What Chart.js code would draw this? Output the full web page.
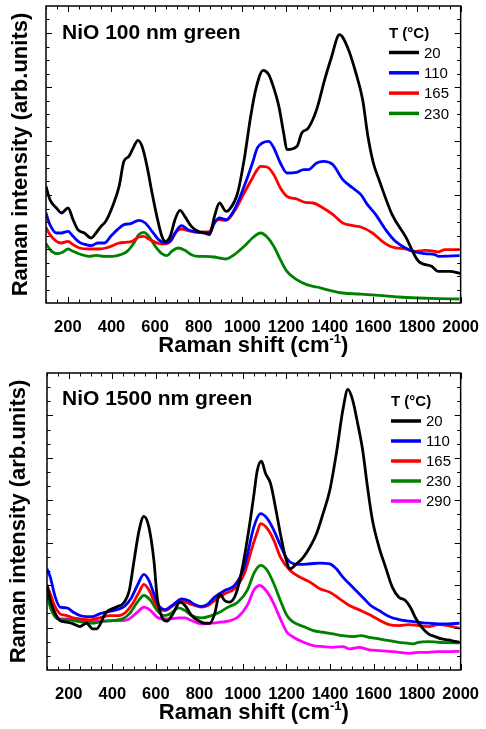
<!DOCTYPE html>
<html>
<head>
<meta charset="utf-8">
<script src="https://cdn.jsdelivr.net/npm/chart.js@4.4.1/dist/chart.umd.min.js"></script>
<style>
  body { margin: 0; background: #fff; }
  canvas { display: block; }
</style>
</head>
<body>
<canvas id="thinChart" width="486" height="365"></canvas>
<canvas id="thickChart" width="486" height="364"></canvas>
<script>
// x labels shared by both panels
const xLabels = [200, 400, 600, 800, 1000, 1200, 1400, 1600, 1800, 2000]

// NiO 100 nm green, [Raman shift, intensity (arb.)]
const thin20 = [[100,350],[118,310],[148,285],[171,270],[201,285],[224,250],[246,220],[276,210],[307,195],[329,210],[352,230],[374,245],[405,290],[435,350],[457,425],[480,440],[503,470],[521,488],[540,470],[563,410],[586,330],[608,260],[631,200],[646,185],[669,200],[691,250],[714,278],[736,260],[766,230],[797,215],[827,210],[850,205],[872,260],[895,300],[925,275],[940,280],[978,330],[1008,430],[1038,560],[1061,640],[1095,698],[1121,685],[1136,660],[1167,590],[1189,510],[1204,460],[1250,470],[1272,510],[1302,525],[1340,580],[1377,670],[1407,735],[1445,805],[1483,765],[1520,690],[1551,610],[1575,500],[1600,420],[1626,370],[1686,265],[1747,200],[1807,125],[1867,110],[1897,95],[1950,95],[2000,88]]
const thin110 = [[100,270],[118,235],[148,210],[171,210],[201,215],[224,200],[254,182],[284,175],[307,172],[337,180],[367,180],[397,200],[427,220],[457,235],[488,238],[525,248],[555,240],[586,215],[616,190],[646,180],[669,185],[691,210],[721,232],[751,220],[789,213],[827,210],[850,210],[872,240],[895,255],[925,250],[963,280],[1008,350],[1046,420],[1068,465],[1091,480],[1121,485],[1144,465],[1174,420],[1204,390],[1249,392],[1280,400],[1302,400],[1340,420],[1370,425],[1415,415],[1460,370],[1506,345],[1543,325],[1573,295],[1611,265],[1656,220],[1701,185],[1747,165],[1792,153],[1837,148],[1882,145],[1897,140],[1995,142]]
const thin165 = [[100,227],[118,205],[148,185],[171,180],[201,185],[224,175],[254,165],[299,162],[344,162],[374,165],[405,172],[435,180],[465,182],[495,185],[525,198],[548,200],[571,192],[601,182],[631,177],[654,178],[676,190],[699,215],[721,222],[751,217],[797,212],[827,213],[850,215],[872,245],[895,250],[925,248],[963,275],[1008,330],[1046,375],[1068,400],[1083,410],[1113,408],[1144,385],[1174,345],[1204,320],[1249,312],[1287,302],[1325,300],[1370,285],[1415,265],[1460,240],[1506,232],[1543,228],[1596,210],[1641,185],[1686,168],[1747,162],[1792,155],[1837,158],[1882,155],[1897,153],[1928,160],[1995,160]]
const thin230 = [[100,178],[126,155],[156,148],[178,153],[201,162],[224,155],[254,147],[299,140],[329,143],[367,140],[405,140],[442,145],[472,155],[503,180],[525,205],[548,212],[571,200],[601,170],[631,148],[654,142],[676,155],[706,165],[736,158],[766,145],[797,140],[827,140],[872,138],[895,135],[925,132],[963,145],[1008,170],[1046,195],[1083,210],[1113,198],[1144,170],[1174,130],[1204,95],[1249,70],[1295,55],[1340,48],[1400,38],[1460,30],[1536,27],[1626,23],[1716,18],[1807,15],[1897,13],[1995,12]]

// NiO 1500 nm green
const thick20 = [[100,255],[115,208],[138,168],[160,148],[191,143],[221,138],[251,130],[281,140],[311,123],[327,123],[372,173],[417,188],[455,203],[478,238],[500,328],[523,418],[545,460],[568,428],[591,328],[606,218],[628,158],[651,146],[674,163],[712,203],[734,193],[764,163],[795,148],[825,140],[848,140],[870,168],[893,228],[916,208],[938,203],[968,228],[998,308],[1029,428],[1051,528],[1066,598],[1085,625],[1104,588],[1127,558],[1149,488],[1172,408],[1195,338],[1217,303],[1247,318],[1278,338],[1308,368],[1338,408],[1368,468],[1399,538],[1429,648],[1459,778],[1482,840],[1504,808],[1527,738],[1550,658],[1572,548],[1595,448],[1625,368],[1655,308],[1686,248],[1716,218],[1746,208],[1769,188],[1791,158],[1821,128],[1852,108],[1882,100],[1912,93],[1942,90],[1972,86],[1995,83]]
const thick110 = [[100,303],[115,278],[138,218],[160,188],[191,186],[221,173],[251,163],[281,160],[311,160],[341,168],[372,173],[417,180],[455,190],[485,213],[515,253],[545,286],[568,268],[591,228],[613,193],[644,181],[674,193],[719,213],[749,208],[779,196],[810,190],[840,198],[870,218],[916,238],[961,253],[1006,308],[1051,430],[1081,468],[1112,453],[1142,418],[1172,373],[1202,333],[1232,318],[1262,316],[1308,318],[1353,320],[1399,318],[1429,303],[1459,278],[1489,258],[1519,238],[1550,218],[1587,193],[1625,178],[1671,160],[1716,151],[1761,146],[1806,143],[1852,140],[1897,138],[1942,138],[1995,140]]
const thick165 = [[100,253],[115,228],[138,188],[160,168],[191,163],[221,156],[251,153],[296,150],[341,156],[387,163],[432,163],[462,173],[493,198],[523,233],[545,256],[568,240],[591,208],[613,183],[644,178],[674,190],[719,206],[764,196],[810,188],[840,193],[870,208],[916,228],[961,243],[1006,288],[1044,370],[1066,413],[1081,438],[1112,423],[1142,388],[1172,338],[1217,298],[1262,278],[1308,263],[1353,243],[1399,233],[1444,213],[1489,193],[1534,180],[1580,166],[1625,150],[1671,136],[1716,133],[1761,136],[1806,133],[1852,130],[1897,136],[1942,133],[1995,125]]
const thick230 = [[100,228],[115,188],[138,158],[160,150],[191,150],[221,148],[266,143],[311,140],[357,146],[402,148],[447,153],[478,168],[515,203],[545,223],[576,208],[606,178],[636,163],[666,168],[704,186],[734,178],[764,163],[810,156],[855,163],[893,173],[931,188],[976,203],[1021,240],[1051,290],[1081,313],[1112,298],[1142,258],[1172,208],[1202,163],[1232,143],[1278,130],[1323,118],[1368,113],[1414,108],[1459,103],[1504,100],[1542,103],[1580,98],[1625,93],[1671,88],[1716,83],[1761,80],[1784,78],[1806,83],[1852,85],[1897,83],[1942,82],[1995,81]]
const thick290 = [[100,248],[115,208],[138,168],[160,153],[191,153],[221,150],[266,148],[311,146],[357,146],[402,148],[447,148],[478,153],[515,173],[545,188],[576,178],[606,158],[636,153],[666,153],[704,156],[734,156],[764,148],[810,138],[855,140],[893,143],[931,146],[976,158],[1021,195],[1051,240],[1078,253],[1112,233],[1142,198],[1172,153],[1202,113],[1232,98],[1278,83],[1323,73],[1368,70],[1414,68],[1459,70],[1489,63],[1534,68],[1580,60],[1625,58],[1671,56],[1716,53],[1761,50],[1806,53],[1852,53],[1897,55],[1942,55],[1995,56]]

const thinTemps = ['20', '110', '165', '230']
const thickTemps = ['20', '110', '165', '230', '290']
const colors = ['#000000', '#0000ff', '#ff0000', '#008000', '#ff00ff']

const FONT = "'Liberation Sans', Arial, sans-serif"

function line(ctx, x1, y1, x2, y2) {
  ctx.beginPath()
  ctx.moveTo(x1, y1)
  ctx.lineTo(x2, y2)
  ctx.stroke()
}

// frame, inward ticks, panel label, x title and legend
const decor = {
  id: 'decor',
  afterDraw(chart, args, o) {
    const {ctx, chartArea: a, scales: {x, y}} = chart
    ctx.save()
    ctx.strokeStyle = '#000'
    ctx.lineWidth = 1
    for (let v = 100; v <= 2000; v += 50) {
      const px = Math.round(x.getPixelForValue(v)) + 0.5
      const len = v % 200 === 0 ? 6 : 3.5
      line(ctx, px, a.bottom, px, a.bottom - len)
      line(ctx, px, a.top, px, a.top + len)
    }
    const n = Math.round(y.max / o.yMinor)
    for (let i = 1; i < n; i++) {
      const py = Math.round(y.getPixelForValue(i * o.yMinor)) + 0.5
      const len = i % o.perMajor === 0 ? 6 : 3.5
      line(ctx, a.left, py, a.left + len, py)
      line(ctx, a.right, py, a.right - len, py)
    }
    ctx.lineWidth = 1.5
    ctx.strokeRect(a.left, a.top, a.right - a.left, a.bottom - a.top)

    ctx.fillStyle = '#000'
    ctx.textBaseline = 'alphabetic'
    ctx.textAlign = 'left'
    ctx.font = 'bold 21px ' + FONT
    ctx.fillText(o.label, o.labelX, o.labelY)

    // x title with superscript
    const main = 'Raman shift (cm', sup = '-1', close = ')'
    ctx.font = 'bold 22px ' + FONT
    const w1 = ctx.measureText(main).width, w3 = ctx.measureText(close).width
    ctx.font = 'bold 13px ' + FONT
    const w2 = ctx.measureText(sup).width
    let tx = (a.left + a.right) / 2 - (w1 + w2 + w3) / 2
    const ty = a.bottom + o.xTitleGap
    ctx.font = 'bold 22px ' + FONT
    ctx.fillText(main, tx, ty)
    ctx.font = 'bold 13px ' + FONT
    ctx.fillText(sup, tx + w1, ty - 9)
    ctx.font = 'bold 22px ' + FONT
    ctx.fillText(close, tx + w1 + w2, ty)

    // legend
    ctx.font = 'bold 15px ' + FONT
    ctx.fillText('T (°C)', o.legX, o.legY)
    ctx.font = '15px ' + FONT
    ctx.textBaseline = 'middle'
    chart.data.datasets.forEach((ds, i) => {
      const ly = o.legY + o.legFirst + i * o.legStep
      ctx.strokeStyle = ds.borderColor
      ctx.lineWidth = 3.5
      line(ctx, o.legX, ly, o.legX + 30, ly)
      ctx.fillText(ds.label, o.legX + 35, ly + 1)
    })
    ctx.restore()
  }
}

function makeChart(id, series, temps, o) {
  return new Chart(document.getElementById(id), {
    type: 'line',
    data: {
      datasets: series.map((s, i) => ({
        label: temps[i],
        data: s.map(p => ({x: p[0], y: p[1]})),
        borderColor: colors[i],
        borderWidth: 2.8,
        pointRadius: 0,
        cubicInterpolationMode: 'monotone',
        fill: false
      }))
    },
    options: {
      responsive: false,
      devicePixelRatio: 1,
      animation: false,
      layout: { padding: { left: 0, top: o.top, right: 20, bottom: 0 } },
      plugins: { legend: { display: false }, tooltip: { enabled: false }, decor: o },
      scales: {
        x: {
          type: 'linear', min: 100, max: 2000,
          afterBuildTicks: s => { s.ticks = xLabels.map(v => ({value: v})) },
          afterFit: s => { s.height = o.xHeight },
          grid: { display: false },
          border: { display: false },
          ticks: { color: '#000', padding: 7, autoSkip: false, maxRotation: 0,
            font: { family: FONT, size: 16.5, weight: 'bold' }, callback: v => String(v) }
        },
        y: {
          min: 0, max: o.yMax,
          afterFit: s => { s.width = o.yWidth },
          grid: { display: false },
          border: { display: false },
          ticks: { display: false },
          title: { display: true, text: 'Raman intensity (arb.units)', color: '#000',
            font: { family: FONT, size: 22, weight: 'bold' }, padding: { top: o.yTitlePad, bottom: 0 } }
        }
      }
    },
    plugins: [decor]
  })
}

makeChart('thinChart', [thin20, thin110, thin165, thin230], thinTemps, {
  top: 6, xHeight: 62, yWidth: 46, yMax: 891, yMinor: 40.5, perMajor: 4, yTitlePad: 8,
  label: 'NiO 100 nm green', labelX: 62, labelY: 39, xTitleGap: 48.5,
  legX: 389, legY: 37.5, legFirst: 15, legStep: 20.3
})
makeChart('thickChart', [thick20, thick110, thick165, thick230, thick290], thickTemps, {
  top: 8, xHeight: 59, yWidth: 47, yMax: 889, yMinor: 127 / 3, perMajor: 3, yTitlePad: 5.5,
  label: 'NiO 1500 nm green', labelX: 62, labelY: 40, xTitleGap: 48.5,
  legX: 391, legY: 41, legFirst: 15, legStep: 20
})
</script>
</body>
</html>
